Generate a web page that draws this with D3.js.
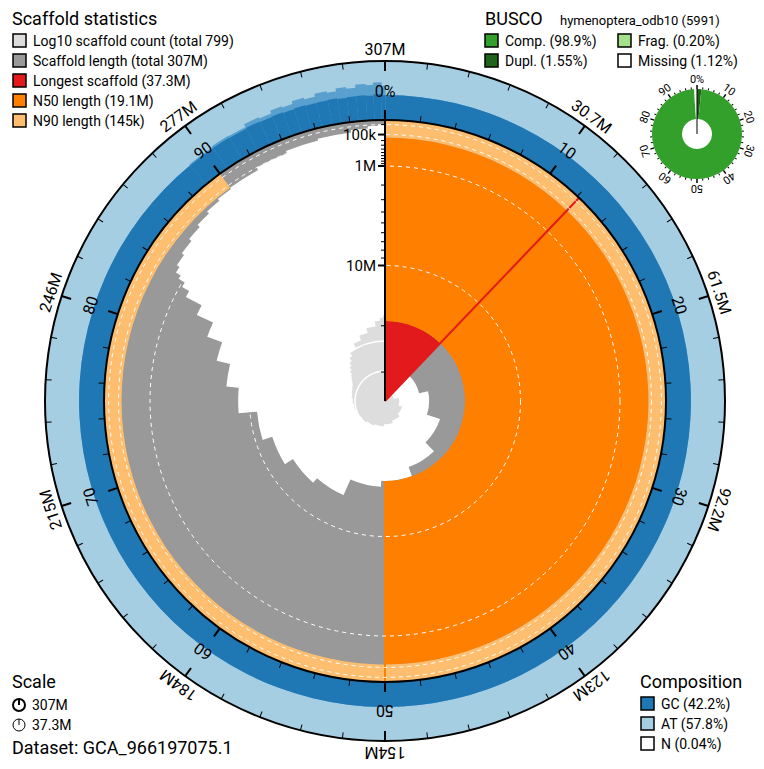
<!DOCTYPE html>
<html>
<head>
<meta charset="utf-8">
<script src="https://cdn.jsdelivr.net/npm/d3@7"></script>
<style>
body { margin: 0; background: #fff; }
text { font-family: Roboto, "DejaVu Sans", sans-serif; fill: #000; }
</style>
</head>
<body>
<svg id="chart" width="764" height="769"></svg>
<script>
// ---- values ----
var totalLength = 307.4e6;
var scaffoldCount = 799;
var longestLen = 37.3e6, n50Len = 19.1e6, n90Len = 145e3;
var datasetName = "GCA_966197075.1";

// scaffold length along the cumulative assembly (step starts in %, length there)
var lenPct = [0, 12.13, 21.44, 30.06, 37.70, 44.53, 50.75, 56.60, 61.48, 66.04, 70.10, 73.68, 76.45, 78.73, 80.51, 81.82,
  82.66, 83.15, 83.51, 83.77, 84.2, 85.0, 86.0, 87.0, 88.0, 89.0, 90.0, 92.0, 94.0, 96.0, 98.0, 99.0, 99.6];
var lenVal = [37.3e6, 28.6e6, 26.5e6, 23.5e6, 21.0e6, 19.1e6, 18.0e6, 15.0e6, 14.0e6, 12.5e6, 11.0e6, 8.5e6, 7.0e6, 5.5e6, 4.0e6, 2.6e6,
  1.5e6, 1.1e6, 0.8e6, 0.6e6, 0.5e6, 0.42e6, 0.34e6, 0.27e6, 0.21e6, 0.17e6, 0.145e6, 0.1e6, 0.07e6, 0.05e6, 0.03e6, 0.015e6, 0.008e6];

// cumulative scaffold count along the assembly
var countPct = [0, 12.13, 21.44, 30.06, 37.70, 44.53, 50.75, 56.60, 61.48, 66.04, 70.10, 73.68, 76.45, 78.73, 80.51, 81.82,
  82.66, 83.15, 83.51, 83.77, 84.2, 85.0, 86.0, 87.0, 88.0, 89.0, 90.0, 92.0, 94.0, 96.0, 98.0, 99.0, 99.6];
var countVal = [1, 2, 3, 4, 5, 6, 7, 8, 9, 10, 11, 12, 13, 14, 15, 16,
  17, 18, 19, 20, 22, 26, 33, 42, 54, 72, 100, 150, 220, 320, 480, 600, 720];

// GC proportion per stretch of the assembly (start %, mean, max)
var gcPct  = [0, 89, 90.5, 91.5, 92.5, 93.3, 94, 94.6, 95.2, 95.8, 96.4, 97, 97.5, 98, 98.5, 99, 99.4, 99.8];
var gcMean = [0.422, 0.42, 0.425, 0.418, 0.43, 0.42, 0.428, 0.415, 0.43, 0.42, 0.425, 0.43, 0.418, 0.425, 0.43, 0.42, 0.44, 0.42];
var gcMax  = [0.422, 0.44, 0.46, 0.45, 0.5, 0.48, 0.53, 0.51, 0.56, 0.53, 0.58, 0.55, 0.6, 0.57, 0.62, 0.6, 0.64, 0.58];

var scaleTicksPct = [0, 10, 20, 30, 40, 50, 60, 70, 80, 90];
var axisMajor = [1e5, 1e6, 1e7];
var axisMajorLabel = ["100k", "1M", "10M"];
var axisMinor = [1e4, 2e5, 3e5, 4e5, 5e5, 6e5, 7e5, 8e5, 9e5, 2e6, 3e6, 4e6, 5e6, 6e6, 7e6, 8e6, 9e6, 2e7, 3e7];
var dashRings = [1e4, 1e5, 1e6, 1e7];

var buscoLineage = "hymenoptera_odb10 (5991)";
var buscoComp = 98.9, buscoDupl = 1.55, buscoFrag = 0.20, buscoMiss = 1.12;
var gcPercent = 42.2, atPercent = 57.8, nPercent = 0.04;

// ---- colours ----
var col = {
  count: "#dddddd", length: "#999999", longest: "#e31a1c", n50: "#ff7f00", n90: "#fdbf6f",
  gc: "#1f78b4", gcMax: "#5aa0cf", at: "#a6cee3", comp: "#33a02c", dupl: "#20641c", frag: "#a3e28b"
};

var svg = d3.select("#chart");
var cx = 385, cy = 401, R = 281, Rout = 340;
var TAU = Math.PI * 2;
var ang = d3.scaleLinear().domain([0, 100]).range([0, TAU]);
var rLen = d3.scaleSqrt().domain([0, longestLen]).range([R, 0]);
var rCount = d3.scaleLog().domain([1, 1000]).range([0, 90]);
var rGC = d3.scaleLinear().domain([0, 1]).range([R, Rout]);
var fmt = d3.format(".3s");

var g = svg.append("g").attr("transform", "translate(" + cx + "," + cy + ")");

function endOf(pcts, i) { return i + 1 < pcts.length ? pcts[i + 1] : 100; }

// stepped spiral following the given radii, closed back to the start
function spiral(p, pcts, radii) {
  for (var i = 0; i < pcts.length; i++) {
    var a0 = ang(pcts[i]) - Math.PI / 2, a1 = ang(endOf(pcts, i)) - Math.PI / 2;
    if (i == 0) p.moveTo(radii[i] * Math.cos(a0), radii[i] * Math.sin(a0));
    p.arc(0, 0, radii[i], a0, a1);
  }
  p.closePath();
  return p;
}

// composition ring
g.append("circle").attr("r", (R + Rout) / 2).attr("fill", "none")
  .attr("stroke", col.at).attr("stroke-width", Rout - R);
gcPct.forEach(function(p, i) {
  var a0 = ang(p), a1 = ang(endOf(gcPct, i)) + 0.002;
  g.append("path").attr("fill", col.gcMax)
    .attr("d", d3.arc()({ innerRadius: R, outerRadius: rGC(gcMax[i]), startAngle: a0, endAngle: a1 }));
  g.append("path").attr("fill", col.gc)
    .attr("d", d3.arc()({ innerRadius: R, outerRadius: rGC(gcMean[i]), startAngle: a0, endAngle: a1 }));
});

// log10 scaffold count
g.append("path").attr("fill", col.count)
  .attr("d", spiral(d3.path(), countPct, countVal.map(rCount)).toString());
[10, 100].forEach(function(d) {
  var i = countVal.findIndex(function(v) { return v >= d; });
  var p = d3.path();
  var a0 = ang(countPct[i]) - Math.PI / 2;
  p.moveTo(rCount(d) * Math.cos(a0), rCount(d) * Math.sin(a0));
  p.arc(0, 0, rCount(d), a0, TAU - Math.PI / 2);
  g.append("path").attr("d", p.toString()).attr("fill", "none").attr("stroke", "#fff").attr("stroke-width", 1.5);
});

// scaffold length snail
var snail = d3.path();
snail.moveTo(R, 0);
snail.arc(0, 0, R, 0, TAU);
snail.closePath();
spiral(snail, lenPct, lenVal.map(rLen));
g.append("path").attr("d", snail.toString()).attr("fill", col.length).attr("fill-rule", "evenodd");
svg.append("clipPath").attr("id", "snailClip").append("path")
  .attr("d", snail.toString()).attr("clip-rule", "evenodd");

// longest, N50, N90
g.append("path").attr("fill", col.longest)
  .attr("d", d3.arc()({ innerRadius: 0, outerRadius: rLen(n50Len), startAngle: 0, endAngle: ang(longestLen / totalLength * 100) }));
g.append("path").attr("fill", col.n50)
  .attr("d", d3.arc()({ innerRadius: rLen(n50Len), outerRadius: rLen(n90Len), startAngle: 0, endAngle: ang(50) }));
g.append("path").attr("fill", col.n90)
  .attr("d", d3.arc()({ innerRadius: rLen(n90Len), outerRadius: R, startAngle: 0, endAngle: ang(90) }));

function radial(pct, r0, r1) {
  var a = ang(pct) - Math.PI / 2;
  return [r0 * Math.cos(a), r0 * Math.sin(a), r1 * Math.cos(a), r1 * Math.sin(a)];
}
var lp = radial(longestLen / totalLength * 100, 0, R);
g.append("line").attr("x1", lp[0]).attr("y1", lp[1]).attr("x2", lp[2]).attr("y2", lp[3])
  .attr("stroke", col.longest).attr("stroke-width", 2);
var np = radial(50, rLen(n50Len), R);
g.append("line").attr("x1", np[0]).attr("y1", np[1]).attr("x2", np[2]).attr("y2", np[3])
  .attr("stroke", col.n50).attr("stroke-width", 2);

// dashed length rings, only over the snail
g.append("g").attr("clip-path", "url(#snailClip)")
  .selectAll("circle").data(dashRings).enter().append("circle")
  .attr("r", function(d) { return rLen(d); })
  .attr("fill", "none").attr("stroke", "#fff").attr("stroke-width", 1).attr("stroke-dasharray", "4,4");

// rings
g.append("circle").attr("r", R).attr("fill", "none").attr("stroke", "#000").attr("stroke-width", 2);
g.append("circle").attr("r", Rout).attr("fill", "none").attr("stroke", "#000").attr("stroke-width", 2);

// ticks on the rings
var minorPct = d3.range(0, 100, 2);
g.selectAll(".tin").data(minorPct).enter().append("line")
  .attr("transform", function(d) { return "rotate(" + d * 3.6 + ")"; })
  .attr("y1", -R).attr("y2", function(d) { return d % 10 == 0 ? -R - 10 : -R - 6; })
  .attr("stroke", "#000").attr("stroke-width", function(d) { return d % 10 == 0 ? 2 : 1; });
g.selectAll(".tout").data(minorPct).enter().append("line")
  .attr("transform", function(d) { return "rotate(" + d * 3.6 + ")"; })
  .attr("y1", -Rout).attr("y2", function(d) { return d % 10 == 0 ? -Rout + 10 : -Rout + 6; })
  .attr("stroke", "#000").attr("stroke-width", function(d) { return d % 10 == 0 ? 2 : 1; });
g.selectAll(".lin").data(scaleTicksPct).enter().append("text")
  .attr("transform", function(d) { return "rotate(" + d * 3.6 + ") translate(0," + (-R - 23) + ")"; })
  .attr("text-anchor", "middle").attr("font-size", 16)
  .text(function(d) { return d == 0 ? "0%" : d; });
g.selectAll(".lout").data(scaleTicksPct).enter().append("text")
  .attr("transform", function(d) { return "rotate(" + d * 3.6 + ") translate(0," + (-Rout - 6) + ")"; })
  .attr("text-anchor", "middle").attr("font-size", 16)
  .text(function(d) { return fmt(d == 0 ? totalLength : totalLength * d / 100).replace(".00", ""); });

// radial length axis
g.append("line").attr("x1", 0).attr("x2", 0).attr("y1", 0).attr("y2", -R).attr("stroke", "#000").attr("stroke-width", 2);
g.selectAll(".amin").data(axisMinor).enter().append("line")
  .attr("x1", 0).attr("x2", -4)
  .attr("y1", function(d) { return -rLen(d); }).attr("y2", function(d) { return -rLen(d); })
  .attr("stroke", "#000").attr("stroke-width", 1);
g.selectAll(".amaj").data(axisMajor).enter().append("line")
  .attr("x1", 0).attr("x2", -7)
  .attr("y1", function(d) { return -rLen(d); }).attr("y2", function(d) { return -rLen(d); })
  .attr("stroke", "#000").attr("stroke-width", 2);
g.selectAll(".alab").data(axisMajor).enter().append("text")
  .attr("x", -9).attr("y", function(d) { return -rLen(d) + 5; })
  .attr("text-anchor", "end").attr("font-size", 15)
  .text(function(d, i) { return axisMajorLabel[i]; });

// ---- BUSCO donut ----
var bx = 697, by = 134;
var bg = svg.append("g").attr("transform", "translate(" + bx + "," + by + ")");
var bAng = d3.scaleLinear().domain([0, 100]).range([0, TAU]);
var bParts = [
  { c: col.dupl, a: 0, b: buscoDupl },
  { c: col.comp, a: buscoDupl, b: buscoComp },
  { c: col.frag, a: buscoComp, b: buscoComp + buscoFrag },
  { c: "#fff", a: buscoComp + buscoFrag, b: 100 }
];
bg.selectAll(".bp").data(bParts).enter().append("path")
  .attr("fill", function(d) { return d.c; })
  .attr("d", function(d) { return d3.arc()({ innerRadius: 15, outerRadius: 45, startAngle: bAng(d.a), endAngle: bAng(d.b) }); });
bg.append("line").attr("x1", 0).attr("x2", 0).attr("y1", 0).attr("y2", -45).attr("stroke", "#000").attr("stroke-width", 1);
bg.selectAll(".bt").data(d3.range(0, 100, 2)).enter().append("line")
  .attr("transform", function(d) { return "rotate(" + d * 3.6 + ")"; })
  .attr("y1", -45).attr("y2", function(d) { return d % 10 == 0 ? -49 : -47; })
  .attr("stroke", "#000").attr("stroke-width", function(d) { return d % 10 == 0 ? 1.5 : 1; });
bg.selectAll(".bl").data(scaleTicksPct).enter().append("text")
  .attr("transform", function(d) { return "rotate(" + d * 3.6 + ") translate(0,-51)"; })
  .attr("text-anchor", "middle").attr("font-size", 11)
  .text(function(d) { return d == 0 ? "0%" : d; });

// ---- legends ----
function legend(x, y, title, items, sub) {
  var lg = svg.append("g").attr("transform", "translate(" + x + "," + y + ")");
  lg.append("text").attr("x", 0).attr("y", 0).attr("font-size", 18).text(title);
  if (sub) lg.append("text").attr("x", sub.x).attr("y", 0).attr("font-size", 13).text(sub.t);
  items.forEach(function(it) {
    lg.append("rect").attr("x", it.x).attr("y", it.y - 11).attr("width", 13).attr("height", 13)
      .attr("fill", it.c).attr("stroke", "#000").attr("stroke-width", 1.5);
    lg.append("text").attr("x", it.x + 20).attr("y", it.y + 1).attr("font-size", 14).text(it.t);
  });
}
legend(12, 25, "Scaffold statistics", [
  { x: 1, y: 20, c: col.count, t: "Log10 scaffold count (total " + scaffoldCount + ")" },
  { x: 1, y: 40, c: col.length, t: "Scaffold length (total " + fmt(totalLength).replace(".0", "") + ")" },
  { x: 1, y: 60, c: col.longest, t: "Longest scaffold (" + fmt(longestLen) + ")" },
  { x: 1, y: 80, c: col.n50, t: "N50 length (" + fmt(n50Len) + ")" },
  { x: 1, y: 100, c: col.n90, t: "N90 length (" + fmt(n90Len) + ")" }
]);
legend(485, 25, "BUSCO", [
  { x: 0, y: 20, c: col.comp, t: "Comp. (" + buscoComp + "%)" },
  { x: 133, y: 20, c: col.frag, t: "Frag. (" + buscoFrag.toFixed(2) + "%)" },
  { x: 0, y: 40, c: col.dupl, t: "Dupl. (" + buscoDupl + "%)" },
  { x: 133, y: 40, c: "#fff", t: "Missing (" + buscoMiss + "%)" }
], { x: 75, t: buscoLineage });
legend(640, 688, "Composition", [
  { x: 1, y: 20, c: col.gc, t: "GC (" + gcPercent + "%)" },
  { x: 1, y: 40, c: col.at, t: "AT (" + atPercent + "%)" },
  { x: 1, y: 60, c: "#fff", t: "N (" + nPercent + "%)" }
]);

// scale
var sc = svg.append("g").attr("transform", "translate(12,688)");
sc.append("text").attr("font-size", 18).text("Scale");
[{ y: 17, t: "307M", w: 2 }, { y: 37, t: "37.3M", w: 1 }].forEach(function(s) {
  sc.append("circle").attr("cx", 7).attr("cy", s.y).attr("r", 6).attr("fill", "none").attr("stroke", "#000").attr("stroke-width", s.w);
  sc.append("line").attr("x1", 7).attr("x2", 7).attr("y1", s.y).attr("y2", s.y - 6).attr("stroke", "#000").attr("stroke-width", s.w);
  sc.append("text").attr("x", 20).attr("y", s.y + 5).attr("font-size", 14).text(s.t);
});
svg.append("text").attr("x", 12).attr("y", 754).attr("font-size", 18).text("Dataset: " + datasetName);
</script>
</body>
</html>
